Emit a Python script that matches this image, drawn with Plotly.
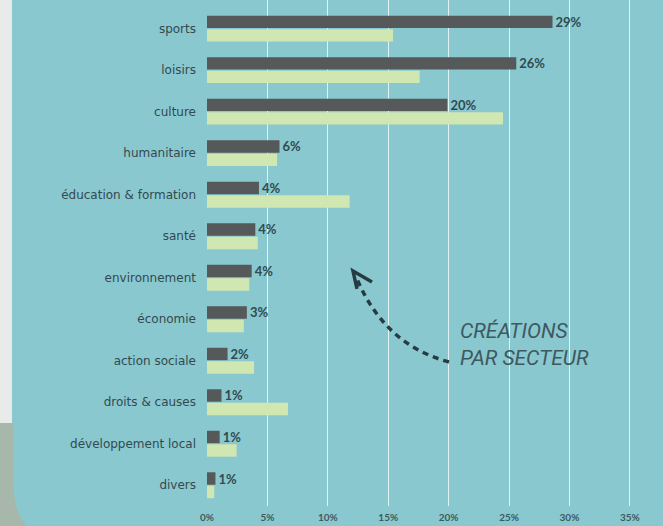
import plotly.graph_objects as go

# ---- data ----
sectors = ["sports", "loisirs", "culture", "humanitaire", "éducation & formation", "santé",
           "environnement", "économie", "action sociale", "droits & causes",
           "développement local", "divers"]
share_existing = [28.6, 25.6, 19.9, 6.0, 4.3, 4.0, 3.7, 3.3, 1.7, 1.2, 1.05, 0.7]
share_created = [15.4, 17.6, 24.5, 5.8, 11.8, 4.2, 3.5, 3.05, 3.9, 6.7, 2.45, 0.6]
x_ticks = [0, 5, 10, 15, 20, 25, 30, 35]
x_tick_labels = ["0%", "5%", "10%", "15%", "20%", "25%", "30%", "35%"]

W, H = 663, 526
ML, MR, MT, MB = 207, 9, 0, 20
PW, PH = W - ML - MR, H - MT - MB

TEAL = "#89c8cf"
DARK = "#565959"
LIGHT = "#d0e7b2"
TEXT = "#34494e"

def px(x):
    return (x - ML) / PW

def py(y):
    return (H - MB - y) / PH

def path(points, close=False):
    s = "M " + " L ".join(f"{px(a):.4f},{py(b):.4f}" for a, b in points)
    return s + (" Z" if close else "")

fig = go.Figure()
fig.add_trace(go.Bar(
    y=sectors, x=share_existing, orientation="h", name="ensemble",
    marker=dict(color=DARK, line=dict(width=0)),
    texttemplate="%{x:.0f}%", textposition="outside", constraintext="none",
    textfont=dict(family="Lato", size=13, color="#2f4b52", weight="bold"),
    cliponaxis=False,
))
fig.add_trace(go.Bar(
    y=sectors, x=share_created, orientation="h", name="créations",
    marker=dict(color=LIGHT, line=dict(width=0)),
))

shapes = [
    dict(type="rect", xref="paper", yref="paper", x0=px(0), x1=px(12), y0=py(423), y1=py(0),
         fillcolor="#e9eaea", line=dict(width=0), layer="below"),
    dict(type="rect", xref="paper", yref="paper", x0=px(0), x1=px(40), y0=py(526), y1=py(423),
         fillcolor="#a7b7aa", line=dict(width=0), layer="below"),
    dict(type="path", xref="paper", yref="paper",
         path=f"M {px(13):.4f},{py(423):.4f} L {px(13):.4f},{py(480):.4f} "
              f"Q {px(14):.4f},{py(532):.4f} {px(48):.4f},{py(538):.4f} "
              f"L {px(48):.4f},{py(423):.4f} Z",
         fillcolor=TEAL, line=dict(width=0), layer="below"),
    dict(type="path", xref="paper", yref="paper",
         path=f"M {px(449):.4f},{py(362):.4f} Q {px(385):.4f},{py(345):.4f} {px(357):.4f},{py(279):.4f}",
         line=dict(color="#263c42", width=3.5, dash="6px,5px"), layer="above"),
    dict(type="path", xref="paper", yref="paper",
         path=path([(372, 282), (353, 271), (357, 289)]),
         line=dict(color="#263c42", width=3.5), layer="above"),
]

fig.update_layout(
    width=W, height=H,
    margin=dict(l=ML, r=MR, t=MT, b=MB),
    paper_bgcolor=TEAL, plot_bgcolor=TEAL,
    barmode="group", bargap=0.35, bargroupgap=0.08,
    showlegend=False,
    font=dict(family="Lato", color=TEXT),
    shapes=shapes,
    annotations=[dict(
        xref="paper", yref="paper", x=px(458), y=py(344), xanchor="left", yanchor="middle",
        text="<i>CRÉATIONS<br>PAR SECTEUR</i>", align="left", showarrow=False,
        font=dict(family="Roboto", size=21, color="#3f5860"),
    )],
    xaxis=dict(range=[0, 37], tickvals=x_ticks, ticktext=x_tick_labels,
               showgrid=True, gridcolor="rgba(240,250,250,0.85)", gridwidth=1, zeroline=False,
               showline=False, ticks="", tickfont=dict(family="Lato", size=10, color="#3c5a60", weight="bold"),
               ticklabelstandoff=4),
    yaxis=dict(categoryorder="array", categoryarray=sectors, range=[11.5, -0.69],
               showgrid=False, zeroline=False, showline=False, ticks="",
               tickfont=dict(family="DejaVu Sans", size=12, color=TEXT), ticklabelstandoff=10),
)

fig.write_html("out.html", config={"displayModeBar": False},
               post_script="document.body.style.margin='0';document.body.style.overflow='hidden';")
